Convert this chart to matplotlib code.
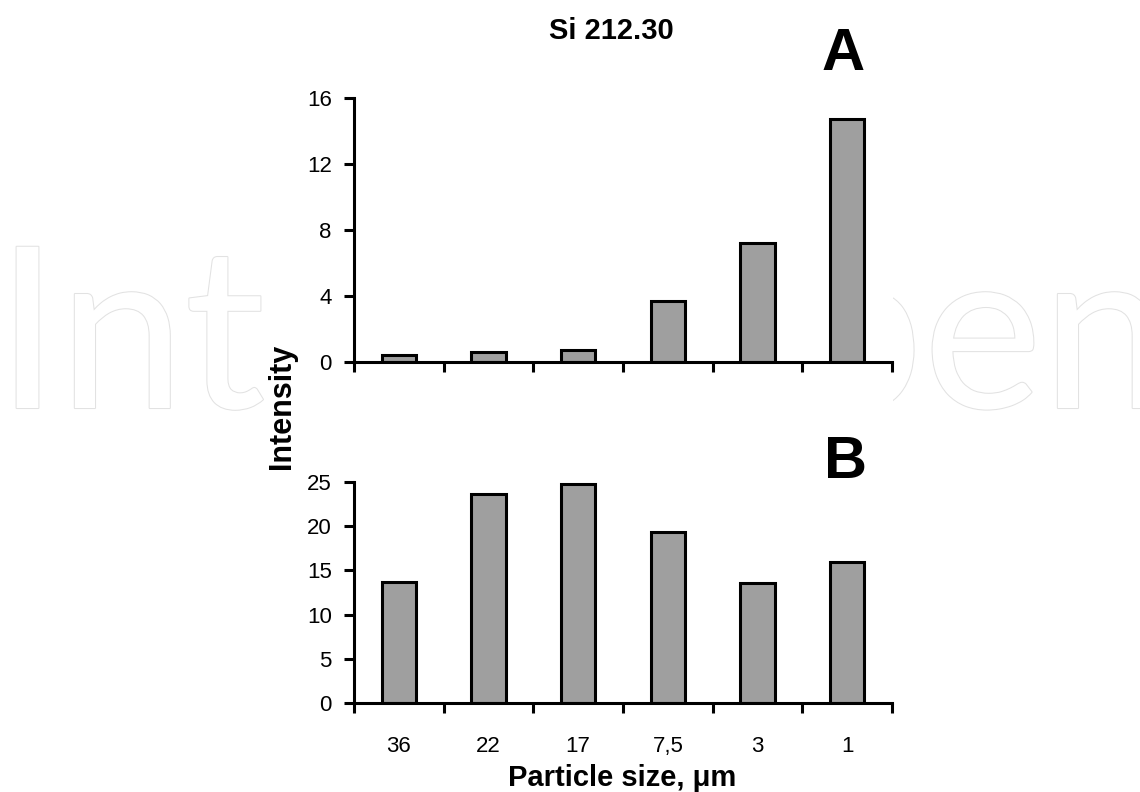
import matplotlib
matplotlib.use("Agg")
import matplotlib.pyplot as plt
import matplotlib.patheffects as pe
from matplotlib.patches import Rectangle

plt.rcParams['font.family'] = ['Liberation Sans', 'DejaVu Sans']

sizes = ["36", "22", "17", "7,5", "3", "1"]
intensity_a = [0.45, 0.6, 0.75, 3.7, 7.2, 14.7]
intensity_b = [13.7, 23.6, 24.8, 19.3, 13.6, 15.9]
ticks_a = [0, 4, 8, 12, 16]
ticks_b = [0, 5, 10, 15, 20, 25]

W, H = 1140, 792
fig = plt.figure(figsize=(W / 100, H / 100), dpi=100)


def frac(x0, y_top, x1, y_bot):
    return [x0 / W, 1 - y_bot / H, (x1 - x0) / W, (y_bot - y_top) / H]


# watermark, middle part hidden behind a white block
fig.text(-4 / W, 1 - 408 / H, "IntechOpen", ha="left", va="baseline", fontsize=162,
         family="Lato", color="white", zorder=-3,
         path_effects=[pe.Stroke(linewidth=1.5, foreground="#e2e2e2"), pe.Normal()])
fig.add_artist(Rectangle((268 / W, 0.1), (893 - 268) / W, 0.8, transform=fig.transFigure,
                         facecolor="white", edgecolor="none", zorder=-2))

ax_a = fig.add_axes(frac(354, 98, 892, 362))
ax_b = fig.add_axes(frac(354, 482, 892, 703))

x = list(range(len(sizes)))
for ax, vals, yt in [(ax_a, intensity_a, ticks_a), (ax_b, intensity_b, ticks_b)]:
    ax.set_facecolor("none")
    ax.bar(x, vals, width=0.38, color="#9f9f9f", edgecolor="black", linewidth=2.2)
    ax.set_xlim(-0.5, len(sizes) - 0.5)
    ax.set_ylim(0, yt[-1])
    ax.set_yticks(yt)
    ax.spines["top"].set_visible(False)
    ax.spines["right"].set_visible(False)
    ax.spines["left"].set_linewidth(2.2)
    ax.spines["bottom"].set_linewidth(2.2)
    ax.tick_params(axis="y", direction="out", length=7, width=2.2, labelsize=16, pad=9)
    # ticks between categories, labels at centres
    ax.set_xticks([i - 0.5 for i in range(len(sizes) + 1)])
    ax.set_xticklabels([])
    ax.tick_params(axis="x", which="major", direction="out", length=7, width=2.2)
    ax.set_xticks(x, minor=True)
    ax.tick_params(axis="x", which="minor", length=0, labelsize=16, pad=35)

ax_b.set_xticklabels(sizes, minor=True)
for lab in ax_b.get_xticklabels(minor=True):
    lab.set_verticalalignment("baseline")

fig.text(611 / W, 1 - 31 / H, "Si 212.30", ha="center", va="center",
         fontsize=21, fontweight="bold")
fig.text(843 / W, 1 - 54 / H, "A", ha="center", va="center", fontsize=43, fontweight="bold")
fig.text(846 / W, 1 - 463 / H, "B", ha="center", va="center", fontsize=43, fontweight="bold")
fig.text(282 / W, 1 - 406 / H, "Intensity", ha="center", va="center", rotation=90,
         fontsize=22, fontweight="bold")
fig.text(622 / W, 1 - 786 / H, "Particle size, \u03bcm", ha="center", va="baseline",
         fontsize=21, fontweight="bold")

fig.savefig("out.png", dpi=100, facecolor="white")
